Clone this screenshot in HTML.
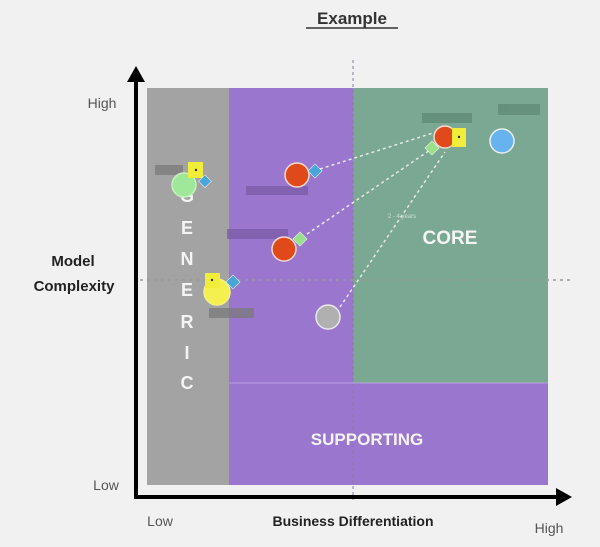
<!DOCTYPE html>
<html><head><style>
body{margin:0;background:#f1f1f1;}
svg{display:block;font-family:"Liberation Sans",sans-serif;}
</style></head><body>
<svg width="600" height="547" viewBox="0 0 600 547">
<rect width="600" height="547" fill="#f1f1f1"/>
<text x="352" y="24" text-anchor="middle" font-size="17" font-weight="bold" fill="#333">Example</text>
<line x1="306" y1="28" x2="398" y2="28" stroke="#333" stroke-width="1.5"/>
<rect x="147" y="88" width="82" height="397" fill="#a3a3a3"/>
<rect x="229" y="88" width="124" height="295" fill="#9b76cf"/>
<rect x="353" y="88" width="195" height="295" fill="#7aa892"/>
<rect x="229" y="383" width="319" height="102" fill="#9b76cf"/>
<line x1="229" y1="383" x2="548" y2="383" stroke="#b9a0e0" stroke-width="1"/>
<line x1="353" y1="60" x2="353" y2="500" stroke="#8a7a9a" stroke-width="1" stroke-dasharray="3,3"/>
<line x1="140" y1="280" x2="572" y2="280" stroke="#999" stroke-width="1.5" stroke-dasharray="3,4"/>
<!-- axes -->
<line x1="136" y1="80" x2="136" y2="498" stroke="#000" stroke-width="4"/>
<polygon points="136,66 127,82 145,82" fill="#000"/>
<line x1="134" y1="497" x2="558" y2="497" stroke="#000" stroke-width="4"/>
<polygon points="572,497 556,488 556,506" fill="#000"/>
<text x="102" y="108" text-anchor="middle" font-size="14" fill="#555">High</text>
<text x="73" y="266" text-anchor="middle" font-size="15" font-weight="bold" fill="#222">Model</text>
<text x="74" y="291" text-anchor="middle" font-size="15" font-weight="bold" fill="#222">Complexity</text>
<text x="106" y="490" text-anchor="middle" font-size="14" fill="#555">Low</text>
<text x="160" y="526" text-anchor="middle" font-size="14" fill="#555">Low</text>
<text x="353" y="526" text-anchor="middle" font-size="14" font-weight="bold" fill="#222">Business Differentiation</text>
<text x="549" y="533" text-anchor="middle" font-size="14" fill="#555">High</text>
<!-- labels -->
<g fill="#f4f4f4" font-weight="bold" font-size="18" text-anchor="middle">
<text x="187" y="202">G</text>
<text x="187" y="234">E</text>
<text x="187" y="265">N</text>
<text x="187" y="296">E</text>
<text x="187" y="328">R</text>
<text x="187" y="359">I</text>
<text x="187" y="389">C</text>
<text x="450" y="244" font-size="19">CORE</text>
<text x="367" y="445" font-size="17">SUPPORTING</text>
</g>
<!-- bars -->
<g fill="#7a7a7a" opacity="0.75">
<rect x="155" y="165" width="28" height="10"/>
<rect x="246" y="186" width="62" height="9" fill="#7a5aa8"/>
<rect x="227" y="229" width="61" height="10" fill="#7a5aa8"/>
<rect x="209" y="308" width="45" height="10"/>
<rect x="422" y="113" width="50" height="10" fill="#5f8a75"/>
<rect x="498" y="104" width="42" height="11" fill="#5f8a75"/>
</g>
<!-- dashed lines -->
<g stroke="#e8e8e8" stroke-width="1.5" stroke-dasharray="3,3" fill="none">
<line x1="320" y1="169" x2="433" y2="133"/>
<line x1="307" y1="234" x2="430" y2="150"/>
<line x1="340" y1="307" x2="445" y2="152"/>
</g>
<text x="402" y="218" font-size="6" fill="#cfe0d7" text-anchor="middle">2 - 4 years</text>
<!-- circles -->
<g stroke="#f4d8d0" stroke-width="1.5">
<circle cx="184" cy="185" r="12" fill="#9fe89a" stroke="#c8f0c0"/>
<circle cx="297" cy="175" r="12" fill="#e04a1a"/>
<circle cx="284" cy="249" r="12" fill="#e04a1a"/>
<circle cx="217" cy="292" r="13" fill="#f4f050" stroke="#f4f080"/>
<circle cx="328" cy="317" r="12" fill="#b0b0b0" stroke="#e8e8e8"/>
<circle cx="445" cy="137" r="11" fill="#e04a1a"/>
<circle cx="502" cy="141" r="12" fill="#66b3ef" stroke="#e8f0f0"/>
</g>
<!-- yellow squares -->
<g fill="#f2ec3a">
<rect x="188" y="162" width="15" height="16"/>
<rect x="205" y="273" width="15" height="15"/>
<rect x="452" y="128" width="14" height="19"/>
</g>
<g fill="#333"><circle cx="196" cy="170" r="1.2"/><circle cx="212" cy="280" r="1.2"/><circle cx="459" cy="137" r="1.2"/></g>
<!-- diamonds -->
<g stroke="#fff" stroke-width="0.5">
<rect x="200" y="177" width="9" height="9" fill="#4aa6d8" transform="rotate(45 205 182)"/>
<rect x="310" y="166" width="10" height="10" fill="#4aa6d8" transform="rotate(45 315 171)"/>
<rect x="228" y="277" width="10" height="10" fill="#4aa6d8" transform="rotate(45 233 282)"/>
<rect x="295" y="234" width="10" height="10" fill="#9be08a" transform="rotate(45 300 239)"/>
<rect x="427" y="143" width="10" height="10" fill="#9be08a" transform="rotate(45 432 148)"/>
</g>
</svg>
</body></html>
